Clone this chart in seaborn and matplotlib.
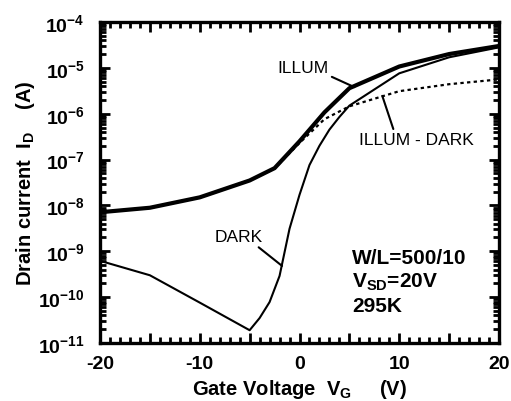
import numpy as np
import pandas as pd
import matplotlib
matplotlib.use('Agg')
import matplotlib.pyplot as plt
from matplotlib.ticker import MultipleLocator, LogLocator, FuncFormatter, NullFormatter
import seaborn as sns

# Transfer curves: gate voltage (V) vs drain current (A)
vg_illum = [-20, -15, -10, -5, -2.5, 0, 2.5, 5, 10, 15, 20]
id_illum = [7.1e-9, 8.9e-9, 1.5e-8, 3.5e-8, 6.5e-8, 2.5e-7, 1.07e-6, 3.6e-6, 1.07e-5, 2.0e-5, 3.0e-5]

vg_dark = [-20, -15, -10, -5, -4, -3, -2, -1, 0, 1, 2, 3, 4, 5, 10, 15, 20]
id_dark = [6.2e-10, 3.0e-10, 7.6e-11, 1.9e-11, 3.5e-11, 7.8e-11, 2.9e-10, 3.1e-9,
           1.7e-8, 7.6e-8, 2.0e-7, 4.5e-7, 8.5e-7, 1.5e-6, 7.6e-6, 1.7e-5, 2.8e-5]

vg_diff = [-20, -15, -10, -5, -2.5, 0, 2.5, 5, 10, 15, 20]
id_diff = [7.1e-9, 8.9e-9, 1.5e-8, 3.5e-8, 6.4e-8, 2.3e-7, 7.6e-7, 1.45e-6, 3.1e-6, 4.4e-6, 5.6e-6]

x_ticks = [-20, -10, 0, 10, 20]

sns.set_style('ticks')
plt.rcParams['font.family'] = ['Liberation Sans', 'DejaVu Sans']
plt.rcParams['font.weight'] = 'bold'
plt.rcParams['text.color'] = 'black'
plt.rcParams['axes.labelcolor'] = 'black'
plt.rcParams['xtick.color'] = 'black'
plt.rcParams['ytick.color'] = 'black'
plt.rcParams['mathtext.fontset'] = 'custom'
plt.rcParams['mathtext.rm'] = 'Liberation Sans:bold'
plt.rcParams['mathtext.it'] = 'Liberation Sans:bold'
plt.rcParams['mathtext.bf'] = 'Liberation Sans:bold'

fig = plt.figure(figsize=(5.11, 4.02), dpi=100)
ax = fig.add_axes([100 / 511, 58 / 402, 399 / 511, 321 / 402])

sns.lineplot(x=vg_illum, y=id_illum, ax=ax, color='black', lw=3.0,
             estimator=None, sort=False)
sns.lineplot(x=vg_diff, y=id_diff, ax=ax, color='black', lw=1.6,
             linestyle=(0, (1.5, 1.5)), estimator=None, sort=False)
sns.lineplot(x=vg_dark, y=id_dark, ax=ax, color='black', lw=1.5,
             estimator=None, sort=False)

ax.set_yscale('log')
ax.set_xlim(-20, 20)
ax.set_ylim(1e-11, 1e-4)

# ticks: inward on all four sides
ax.xaxis.set_major_locator(MultipleLocator(5))
ax.xaxis.set_minor_locator(MultipleLocator(1))
ax.xaxis.set_major_formatter(FuncFormatter(lambda v, p: f'{v:.0f}' if v in x_ticks else ''))
ax.yaxis.set_major_locator(LogLocator(base=10, numticks=20))
ax.yaxis.set_minor_locator(LogLocator(base=10, subs=np.arange(2, 10), numticks=20))
ax.yaxis.set_minor_formatter(NullFormatter())
ax.yaxis.set_major_formatter(FuncFormatter(lambda v, p: r'$10^{%d}$' % round(np.log10(v))))
ax.tick_params(which='both', direction='in', top=True, right=True, width=2.0)
ax.tick_params(which='major', length=7, labelsize=14, pad=9)
ax.tick_params(axis='y', which='major', pad=11)
ax.tick_params(which='minor', length=4)
for s in ax.spines.values():
    s.set_linewidth(2.4)
    s.set_color('black')

ax.set_xlabel(r'Gate Voltage  V$_{G}$     (V)', fontsize=14.5, fontweight='bold', labelpad=3)
ax.set_ylabel(r'Drain current  I$_{D}$    (A)', fontsize=14.5, fontweight='bold', labelpad=1)

# curve labels with leader lines
line_kw = dict(arrowstyle='-', color='black', lw=1.5, shrinkA=0, shrinkB=0)
ax.annotate('ILLUM', xy=(5.5, 3.8e-6), xytext=(0.35, 1.0e-5),
            ha='center', va='center', fontsize=12.5, fontweight='normal',
            arrowprops=dict(relpos=(1.0, 0.0), **line_kw))
ax.annotate('ILLUM - DARK', xy=(8.3, 2.45e-6), xytext=(11.7, 2.7e-7),
            ha='center', va='center', fontsize=12.5, fontweight='normal',
            arrowprops=dict(relpos=(0.31, 1.0), **line_kw))
ax.annotate('DARK', xy=(-1.75, 4.8e-10), xytext=(-6.1, 2.1e-9),
            ha='center', va='center', fontsize=12.5, fontweight='normal',
            arrowprops=dict(relpos=(0.83, 0.0), **line_kw))

ax.text(5.3, 1.2e-9, 'W/L=500/10\nV$_{SD}$=20V\n295K', ha='left', va='top',
        fontsize=15, fontweight='bold', linespacing=1.25)

fig.savefig('out.png', dpi=100)
